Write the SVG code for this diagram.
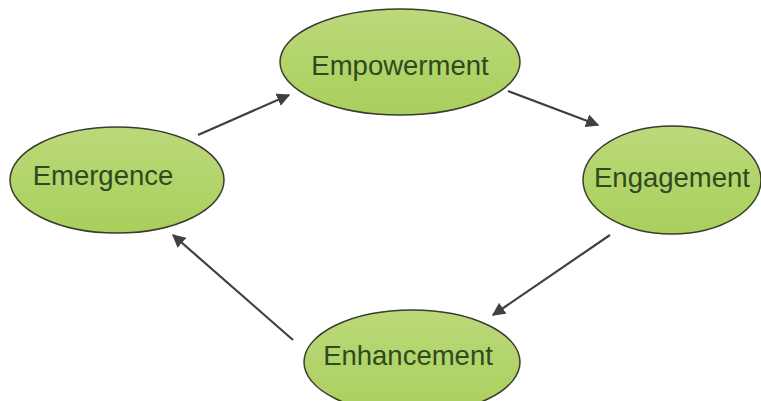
<svg xmlns="http://www.w3.org/2000/svg" width="761" height="401" viewBox="0 0 761 401">
<defs>
<linearGradient id="g" x1="0" y1="0" x2="0" y2="1">
<stop offset="0" stop-color="#bcd97a"/>
<stop offset="1" stop-color="#a9cf5c"/>
</linearGradient>
<marker id="ah" viewBox="0 0 10 10" refX="9" refY="5" markerWidth="6" markerHeight="6" orient="auto" markerUnits="strokeWidth">
<path d="M0,0 L10,5 L0,10 Z" fill="#404040"/>
</marker>
<style>
.n ellipse{fill:url(#g);stroke:#3b3b2e;stroke-width:1.5}
.n text{font-family:"Liberation Sans",Arial,sans-serif;font-size:27.5px;fill:#2e4a1e;text-anchor:middle}
.c line{stroke:#404040;stroke-width:2.2;marker-end:url(#ah)}
</style>
</defs>
<rect width="761" height="401" fill="#ffffff"/>
<g id="connectors" class="c">
<line x1="198" y1="135" x2="289" y2="95"/>
<line x1="508" y1="91" x2="598" y2="125"/>
<line x1="610" y1="235" x2="493" y2="315"/>
<line x1="293" y1="340" x2="173" y2="235"/>
</g>
<g id="empowerment" class="n">
<ellipse cx="400" cy="62" rx="120" ry="53"/>
<text x="400" y="75">Empowerment</text>
</g>
<g id="emergence" class="n">
<ellipse cx="117" cy="180" rx="107" ry="53"/>
<text x="103" y="185">Emergence</text>
</g>
<g id="engagement" class="n">
<ellipse cx="672" cy="180" rx="89" ry="54"/>
<text x="672" y="187">Engagement</text>
</g>
<g id="enhancement" class="n">
<ellipse cx="412" cy="362" rx="108" ry="52"/>
<text x="408" y="365">Enhancement</text>
</g>
</svg>
